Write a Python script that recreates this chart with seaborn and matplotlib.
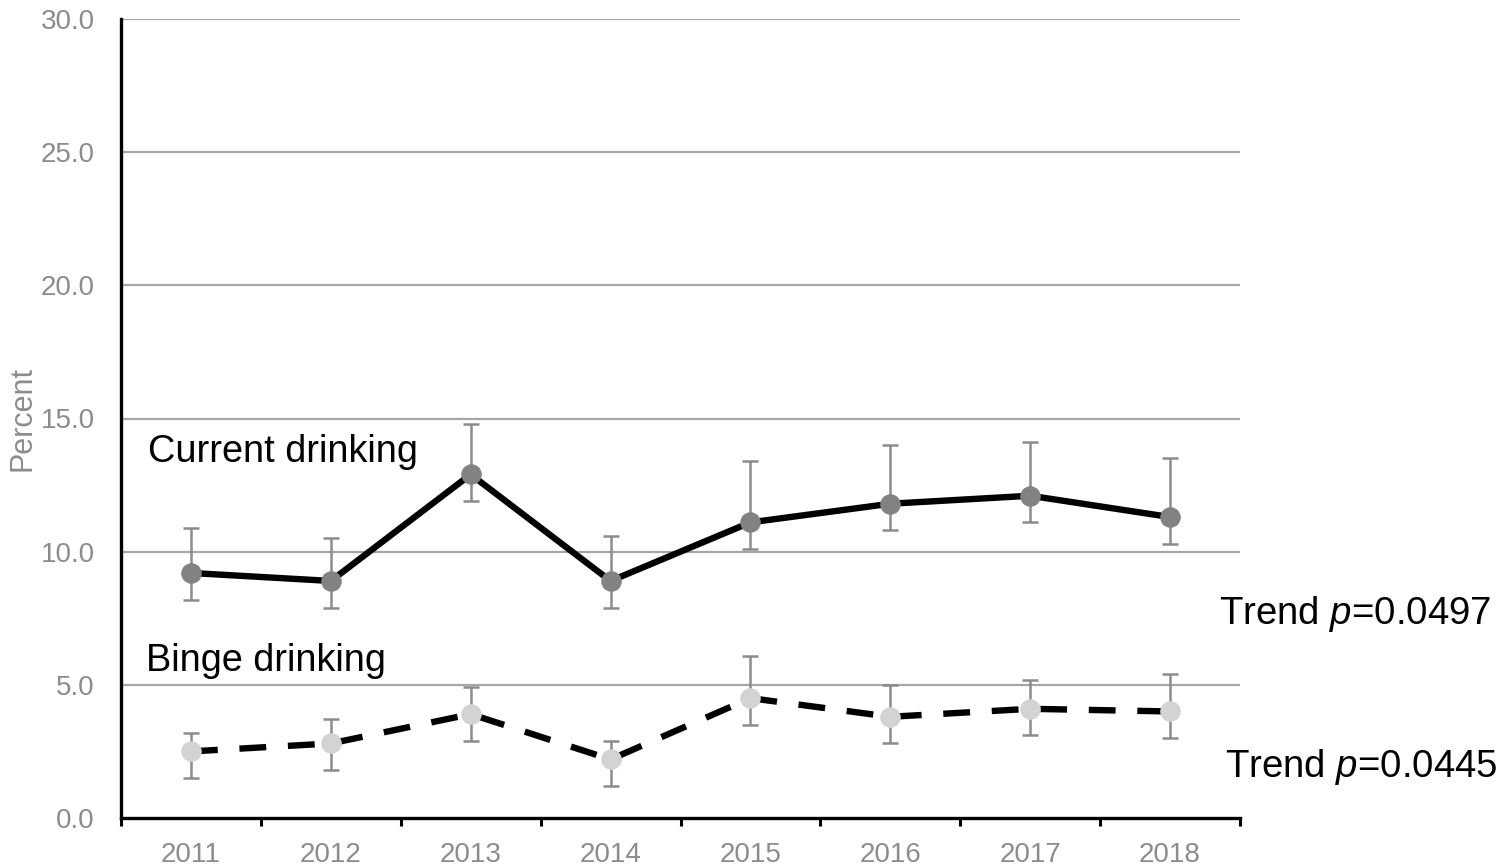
import numpy as np
import pandas as pd
import matplotlib
matplotlib.use("Agg")
import matplotlib.pyplot as plt
import seaborn as sns

years = ["2011", "2012", "2013", "2014", "2015", "2016", "2017", "2018"]
current = [9.2, 8.9, 12.9, 8.9, 11.1, 11.8, 12.1, 11.3]
current_lo = [8.2, 7.9, 11.9, 7.9, 10.1, 10.8, 11.1, 10.3]
current_hi = [10.9, 10.5, 14.8, 10.6, 13.4, 14.0, 14.1, 13.5]
binge = [2.5, 2.8, 3.9, 2.2, 4.5, 3.8, 4.1, 4.0]
binge_lo = [1.5, 1.8, 2.9, 1.2, 3.5, 2.8, 3.1, 3.0]
binge_hi = [3.2, 3.7, 4.9, 2.9, 6.1, 5.0, 5.2, 5.4]
y_ticks = [0.0, 5.0, 10.0, 15.0, 20.0, 25.0, 30.0]

sns.set_theme(style="white")
plt.rcParams["font.family"] = ["Liberation Sans", "DejaVu Sans"]
plt.rcParams["mathtext.fontset"] = "custom"
plt.rcParams["mathtext.rm"] = "Liberation Sans"
plt.rcParams["mathtext.it"] = "Liberation Sans:italic"

fig = plt.figure(figsize=(15, 8.66), dpi=100)
ax = fig.add_axes([121/1500, 1-818/866, (1240-121)/1500, (818-19)/866])

df_c = pd.DataFrame({"year": years, "val": current})
df_b = pd.DataFrame({"year": years, "val": binge})

gray_err = "#8c8c8c"
xs = np.arange(len(years))

ax.errorbar(xs, current, yerr=[np.array(current) - np.array(current_lo), np.array(current_hi) - np.array(current)],
            fmt="none", ecolor=gray_err, elinewidth=1.8, capsize=5.5, capthick=1.8, zorder=2)
ax.errorbar(xs, binge, yerr=[np.array(binge) - np.array(binge_lo), np.array(binge_hi) - np.array(binge)],
            fmt="none", ecolor=gray_err, elinewidth=1.8, capsize=5.5, capthick=1.8, zorder=2)

sns.lineplot(data=df_c, x="year", y="val", ax=ax, color="black", linewidth=4.6,
             marker="o", markersize=14, markerfacecolor="#828282", markeredgecolor="#828282",
             sort=False, zorder=3)
sns.lineplot(data=df_b, x="year", y="val", ax=ax, color="black", linewidth=4.6,
             marker="o", markersize=14, markerfacecolor="#d3d3d3", markeredgecolor="#d3d3d3",
             sort=False, zorder=3)
ax.lines[-1].set_dashes([4.2, 3.4])

ax.set_xlim(-0.5, 7.5)
ax.set_ylim(0, 30)
ax.set_yticks(y_ticks)
ax.set_yticklabels([f"{v:.1f}" for v in y_ticks])
ax.set_xticks(xs)
ax.set_xticklabels(years)
ax.set_xticks(np.arange(-0.5, 8.0, 1.0), minor=True)

ax.grid(False)
for v in y_ticks[1:]:
    ax.axhline(v, color="#a6a6a6", linewidth=1.6, zorder=1)

for s in ["top", "right"]:
    ax.spines[s].set_visible(False)
ax.spines["left"].set_color("black")
ax.spines["left"].set_linewidth(2.4)
ax.spines["bottom"].set_color("black")
ax.spines["bottom"].set_linewidth(2.4)

ax.tick_params(axis="y", which="both", length=0, pad=19, labelsize=20, labelcolor="#8c8c8c")
ax.tick_params(axis="x", which="major", length=0, pad=17, labelsize=20, labelcolor="#8c8c8c")
ax.tick_params(axis="x", which="minor", length=6, width=2.2, color="black", direction="out", bottom=True)

ax.set_xlabel("")
ax.set_ylabel("Percent", fontsize=22, color="#8c8c8c", labelpad=2)

ax.text(-0.307, 13.74, "Current drinking", fontsize=27.3, color="black", va="center", ha="left")
ax.text(-0.32, 5.9, "Binge drinking", fontsize=27.3, color="black", va="center", ha="left")
ax.text(7.35, 7.66, r"Trend $p$=0.0497", fontsize=27.6, color="black", va="center", ha="left", clip_on=False)
ax.text(7.39, 1.92, r"Trend $p$=0.0445", fontsize=27.6, color="black", va="center", ha="left", clip_on=False)

fig.savefig("out.png", dpi=100)
